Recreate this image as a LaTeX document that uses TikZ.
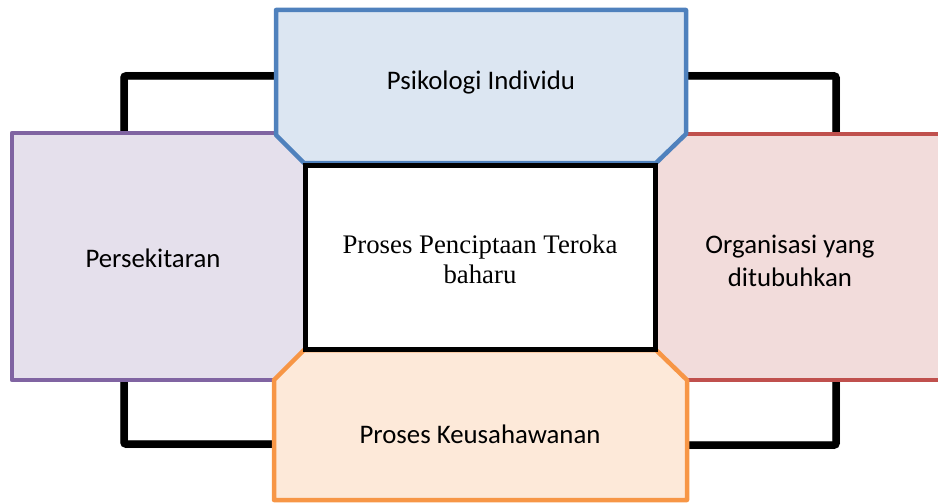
\documentclass[tikz,border=0pt]{standalone}
\usepackage{fontspec}
\setmainfont{Liberation Serif}
\newfontfamily\calib{Carlito}
\definecolor{bluefill}{HTML}{DCE6F2}
\definecolor{blueline}{HTML}{4F81BD}
\definecolor{purpfill}{HTML}{E5E0EC}
\definecolor{purpline}{HTML}{8064A2}
\definecolor{redfill}{HTML}{F2DCDB}
\definecolor{redline}{HTML}{C0504D}
\definecolor{orfill}{HTML}{FDE9D9}
\definecolor{orline}{HTML}{F79646}
\begin{document}
\begin{tikzpicture}[x=1pt,y=-1pt,
  conn/.style={line width=7.5pt, black, rounded corners=2pt},
  connshadow/.style={line width=8pt, black!45, opacity=0.45, rounded corners=2pt, xshift=1.5pt, yshift=-2pt},
  outer/.style={line width=4.5pt, line join=round},
  sanslabel/.style={font=\calib\fontsize{26.8}{33}\selectfont, align=center, inner sep=0pt},
  seriflabel/.style={font=\fontsize{26.8}{30}\selectfont, align=center, inner sep=0pt}]
\useasboundingbox (0,0) rectangle (938,503);
\clip (0,0) rectangle (938,503);
% anchor points on the shapes
\coordinate (blueW) at (276,76);
\coordinate (blueE) at (686,76);
\coordinate (purpN) at (124,134);
\coordinate (purpS) at (124,379);
\coordinate (redN) at (836,135);
\coordinate (redS) at (836,379);
\coordinate (orW) at (274,444);
\coordinate (orE) at (687,445);
% connectors
\draw[connshadow] (blueW) -| (purpN);
\draw[connshadow] (blueE) -| (redN);
\draw[connshadow] (orW) -| (purpS);
\draw[connshadow] (orE) -| (redS);
\draw[conn] (blueW) -| (purpN);
\draw[conn] (blueE) -| (redN);
\draw[conn] (orW) -| (purpS);
\draw[conn] (orE) -| (redS);
% shapes
\fill[purpfill] (12,133) rectangle (310,380);
\draw[outer, draw=purpline] (310,133) -- (12,133) -- (12,380) -- (310,380);
\fill[redfill] (650,134) rectangle (960,380);
\draw[outer, draw=redline] (650,134) -- (960,134) -- (960,380) -- (650,380);
\draw[outer, fill=bluefill, draw=blueline] (304,163) -- (276,135) -- (276,10) -- (686,10) -- (686,134) -- (656,163) -- cycle;
\draw[outer, fill=orfill, draw=orline] (304,350) -- (656,350) -- (687,380) -- (687,500) -- (274,500) -- (274,380) -- cycle;
\draw[line width=5pt, fill=white] (305,165) rectangle (655,349);
% labels
\node[sanslabel, anchor=base] (psi) at (481,89) {Psikologi Individu};
\node[sanslabel, anchor=base] (pers) at (153,267) {Persekitaran};
\node[sanslabel] (org) at (790,261) {Organisasi yang\\ditubuhkan};
\node[sanslabel, anchor=base] (keu) at (480,443) {Proses Keusahawanan};
\node[seriflabel] (proc) at (480,259) {Proses Penciptaan Teroka\\baharu};
\end{tikzpicture}
\end{document}
